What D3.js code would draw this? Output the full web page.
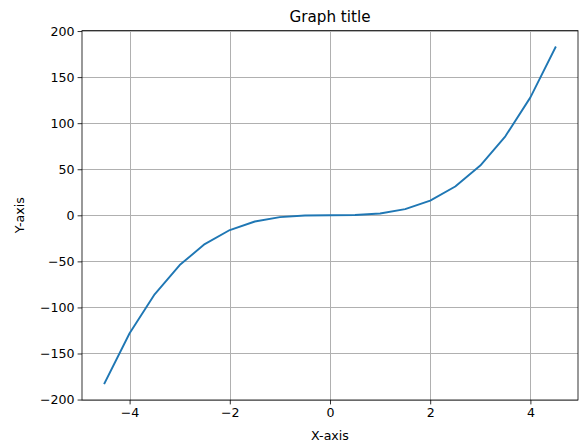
<!DOCTYPE html>
<html><head><meta charset="utf-8">
<script src="https://cdn.jsdelivr.net/npm/d3@7"></script>
<style>body{margin:0;background:#fff}svg{display:block}text{font-family:"DejaVu Sans",sans-serif}</style>
</head><body><svg id="c" width="583" height="445"></svg>
<script>
const xs = [-4.5,-4,-3.5,-3,-2.5,-2,-1.5,-1,-0.5,0,0.5,1,1.5,2,2.5,3,3.5,4,4.5];
const ys = [-182.25,-128,-85.75,-54,-31.25,-16,-6.75,-2,-0.25,0,0.25,2,6.75,16,31.25,54,85.75,128,182.25];
const xTicks = [-4,-2,0,2,4];
const yTicks = [-200,-150,-100,-50,0,50,100,150,200];
const title = "Graph title", xLabel = "X-axis", yLabel = "Y-axis";

const L=82, R=578, T=30.6, B=400;
const svg = d3.select("#c");
const x = d3.scaleLinear().domain([-4.95,4.95]).range([L,R]);
const y = d3.scaleLinear().domain([-200.475,200.475]).range([B,T]);
const fmt = v => String(v).replace("-","\u2212");

const g = svg.append("g");
// grid
g.selectAll(".gx").data(xTicks).join("line").attr("x1",d=>Math.round(x(d))+0.5).attr("x2",d=>Math.round(x(d))+0.5).attr("y1",T).attr("y2",B).attr("stroke","#b0b0b0").attr("stroke-width",1);
g.selectAll(".gy").data(yTicks).join("line").attr("y1",d=>Math.round(y(d))+0.5).attr("y2",d=>Math.round(y(d))+0.5).attr("x1",L).attr("x2",R).attr("stroke","#b0b0b0").attr("stroke-width",1);

// line
svg.append("path").datum(xs.map((v,i)=>[v,ys[i]])).attr("fill","none").attr("stroke","#1f77b4").attr("stroke-width",1.9).attr("stroke-linejoin","round").attr("stroke-linecap","square")
 .attr("d",d3.line().x(d=>x(d[0])).y(d=>y(d[1])));

// axes
const xa = svg.append("g").attr("transform",`translate(0,${B})`).call(d3.axisBottom(x).tickValues(xTicks).tickFormat(fmt).tickSize(4.4).tickSizeOuter(0));
const ya = svg.append("g").attr("transform",`translate(${L},0)`).call(d3.axisLeft(y).tickValues(yTicks).tickFormat(fmt).tickSize(4.4).tickSizeOuter(0));
[xa,ya].forEach(a=>{a.select(".domain").remove();a.selectAll("line").attr("stroke","#000").attr("stroke-width",0.8);a.selectAll("text").attr("font-size",12.6).attr("fill","#000").attr("font-family","DejaVu Sans");});
xa.selectAll("text").attr("dy","0.71em").attr("y",8);
ya.selectAll("text").attr("x",-7.5).attr("dy","0.35em");

svg.append("rect").attr("x",L).attr("y",T).attr("width",R-L).attr("height",B-T).attr("fill","none").attr("stroke","#000").attr("stroke-width",0.8);

svg.append("text").attr("x",(L+R)/2).attr("y",T-9).attr("text-anchor","middle").attr("font-size",15.2).text(title);
svg.append("text").attr("x",(L+R)/2).attr("y",440).attr("text-anchor","middle").attr("font-size",12.6).text(xLabel);
svg.append("text").attr("transform",`translate(24,${(T+B)/2}) rotate(-90)`).attr("text-anchor","middle").attr("font-size",12.6).text(yLabel);
</script></body></html>
